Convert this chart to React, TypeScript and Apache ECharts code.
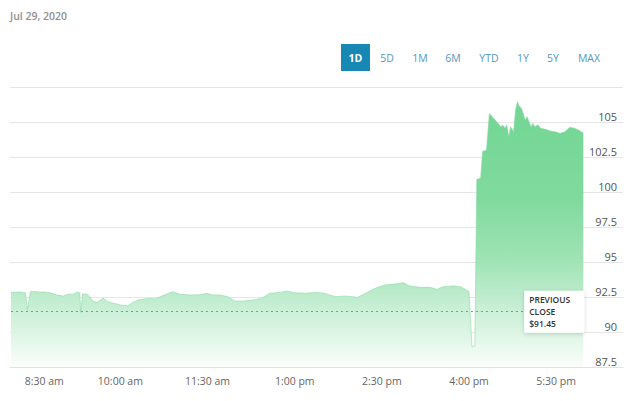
import React, { useEffect, useRef } from "react";
import * as echarts from "echarts";

// ---- data ----
const dateLabel = "Jul 29, 2020";
const rangeButtons = ["1D", "5D", "1M", "6M", "YTD", "1Y", "5Y", "MAX"];
const activeRange = "1D";

const times = [
  "8:07", "8:16", "8:22", "8:24", "8:27", "8:30", "8:37", "8:42", "8:47", "8:55",
  "9:01", "9:06", "9:12", "9:16", "9:18", "9:19", "9:21", "9:26", "9:32", "9:36",
  "9:42", "9:47", "9:52", "10:00", "10:08", "10:12", "10:18", "10:25", "10:31", "10:36",
  "10:44", "10:54", "11:02", "11:12", "11:22", "11:29", "11:36", "11:43", "11:51", "11:58",
  "12:07", "12:17", "12:26", "12:34", "12:45", "12:52", "13:00", "13:11", "13:23", "13:31",
  "13:42", "13:52", "14:05", "14:13", "14:23", "14:33", "14:44", "14:52", "14:59", "15:09",
  "15:20", "15:27", "15:33", "15:44", "15:51", "15:56", "16:00", "16:03", "16:06", "16:08",
  "16:12", "16:14", "16:18", "16:21", "16:24", "16:27", "16:30", "16:33", "16:35", "16:37",
  "16:39", "16:41", "16:43", "16:46", "16:48", "16:50", "16:52", "16:54", "16:56", "16:58",
  "17:00", "17:02", "17:04", "17:06", "17:08", "17:11", "17:14", "17:19", "17:24", "17:29",
  "17:34", "17:39", "17:44", "17:49", "17:53", "17:57", "17:58",
];

const prices = [
  92.84, 92.85, 92.8, 91.6, 92.88, 92.9, 92.85, 92.86, 92.8, 92.64,
  92.57, 92.7, 92.72, 92.85, 92.8, 91.4, 92.72, 92.7, 92.2, 92.1,
  92.43, 92.16, 92.07, 91.93, 91.86, 92.07, 92.29, 92.36, 92.4, 92.36,
  92.6, 92.88, 92.69, 92.64, 92.66, 92.76, 92.64, 92.64, 92.52, 92.21,
  92.21, 92.29, 92.4, 92.76, 92.83, 92.93, 92.8, 92.77, 92.83, 92.76,
  92.52, 92.57, 92.48, 92.76, 93.12, 93.36, 93.43, 93.52, 93.29, 93.19,
  93.19, 93.05, 93.24, 93.29, 93.24, 93.05, 92.88, 88.95, 89.0, 100.9,
  101.0, 102.9, 103.0, 105.6, 105.38, 105.14, 104.9, 104.66, 104.79, 104.55,
  104.79, 103.95, 104.66, 104.3, 105.86, 106.45, 106.1, 106.0, 105.6, 105.14,
  105.38, 105.02, 104.66, 104.9, 104.66, 104.8, 104.55, 104.48, 104.36, 104.3,
  104.19, 104.3, 104.62, 104.55, 104.43, 104.26, 104.2,
];

const previousClose = 91.45;
const previousCloseLabelTime = "16:57";
const xTickTimes = ["8:30", "10:00", "11:30", "13:00", "14:30", "16:00", "17:30"];
const axisStart = "8:06";
const axisEnd = "18:39";
const yMin = 87.5;
const yMax = 107.5;
const yStep = 2.5;

// ---- layout (pixels) ----
const buttonCenters = [355.5, 387, 420, 453, 489, 523, 553, 589];

function toMinutes(s: string): number {
  const [h, m] = s.split(":").map(Number);
  return h * 60 + m;
}

function formatTime(v: number): string {
  const h = Math.floor(v / 60);
  const m = Math.round(v - h * 60);
  const ap = h >= 12 ? "pm" : "am";
  const h12 = ((h + 11) % 12) + 1;
  return `${h12}:${String(m).padStart(2, "0")} ${ap}`;
}

const FONT = "'Open Sans', 'Noto Sans', sans-serif";

export default function App() {
  const ref = useRef<HTMLDivElement>(null);

  useEffect(() => {
    if (!ref.current) return;
    const chart = echarts.init(ref.current, undefined, { renderer: "svg" });

    const seriesData = times.map((t, i) => [toMinutes(t), prices[i]]);
    const firstTick = toMinutes(xTickTimes[0]);

    const buttonGraphics: any[] = [];
    rangeButtons.forEach((b, i) => {
      const cx = buttonCenters[i];
      const active = b === activeRange;
      if (active) {
        buttonGraphics.push({
          type: "rect",
          shape: { x: cx - 14.5, y: 44, width: 29, height: 27 },
          style: { fill: "#1787b4" },
        });
      }
      buttonGraphics.push({
        type: "text",
        x: cx,
        y: 58,
        style: {
          text: b,
          fill: active ? "#ffffff" : "#5398c0",
          fontSize: 10.5,
          fontWeight: active ? "bold" : "normal",
          fontFamily: FONT,
          align: "center",
          verticalAlign: "middle",
          textAlign: "center",
          textVerticalAlign: "middle",
        },
      });
    });

    const option: any = {
      animation: false,
      grid: { left: 10, right: 17, top: 87, bottom: 34, containLabel: false },
      graphic: [
        {
          type: "text",
          x: 10,
          y: 16,
          style: {
            text: dateLabel,
            fill: "#909090",
            fontSize: 10.5,
            fontWeight: 600,
            fontFamily: FONT,
            align: "left",
            verticalAlign: "middle",
            textAlign: "left",
            textVerticalAlign: "middle",
          },
        },
        ...buttonGraphics,
      ],
      xAxis: {
        type: "value",
        min: toMinutes(axisStart),
        max: toMinutes(axisEnd),
        splitLine: { show: false },
        axisTick: { show: false },
        axisLine: { show: true, lineStyle: { color: "#e2e2e2", width: 1 } },
        axisLabel: {
          customValues: xTickTimes.map(toMinutes),
          color: "#666",
          fontSize: 10.5,
          fontFamily: FONT,
          margin: 8,
          formatter: (v: number) =>
            v === firstTick ? `{first|${formatTime(v)}}` : formatTime(v),
          rich: {
            first: {
              padding: [0, 0, 0, 22],
              color: "#666",
              fontSize: 10.5,
              fontFamily: FONT,
            },
          },
        },
      },
      yAxis: {
        type: "value",
        position: "right",
        min: yMin,
        max: yMax,
        interval: yStep,
        axisLine: { show: false },
        axisTick: { show: false },
        splitLine: { lineStyle: { color: "#e6e6e6", width: 1 } },
        axisLabel: {
          inside: true,
          verticalAlign: "bottom",
          margin: 6,
          color: "#555",
          fontSize: 11,
          fontFamily: FONT,
          formatter: (v: number) => (v >= yMax ? "" : String(v)),
        },
      },
      series: [
        {
          type: "line",
          data: seriesData,
          showSymbol: false,
          symbol: "none",
          lineStyle: { width: 0.6, color: "#8cdca6" },
          areaStyle: {
            opacity: 1,
            origin: "start",
            color: new echarts.graphic.LinearGradient(
              0,
              87,
              0,
              367,
              [
                { offset: 0, color: "#6fd592" },
                { offset: 0.4, color: "#80da9e" },
                { offset: 0.62, color: "#a0e3b5" },
                { offset: 0.75, color: "#bfecce" },
                { offset: 0.88, color: "#ddf5e5" },
                { offset: 1, color: "#fbfefc" },
              ],
              true
            ),
          },
          markLine: {
            silent: true,
            symbol: ["none", "none"],
            lineStyle: { type: [2, 3], color: "#6fa383", width: 1 },
            label: {
              show: true,
              position: "end",
              distance: 0,
              formatter: `PREVIOUS\nCLOSE\n$${previousClose.toFixed(2)}`,
              backgroundColor: "#ffffff",
              padding: [3, 5, 3, 5],
              width: 50,
              lineHeight: 12,
              color: "#333",
              fontSize: 8.5,
              fontWeight: 600,
              fontFamily: FONT,
              align: "left",
              shadowColor: "rgba(0,0,0,0.18)",
              shadowBlur: 4,
              shadowOffsetY: 1,
            },
            data: [
              [
                { coord: [seriesData[0][0], previousClose] },
                { coord: [toMinutes(previousCloseLabelTime), previousClose] },
              ],
            ],
          },
        },
      ],
    };

    chart.setOption(option);
    return () => chart.dispose();
  }, []);

  return (
    <div
      ref={ref}
      style={{ position: "absolute", left: 0, top: 0, width: 640, height: 401, background: "#fff" }}
    />
  );
}
